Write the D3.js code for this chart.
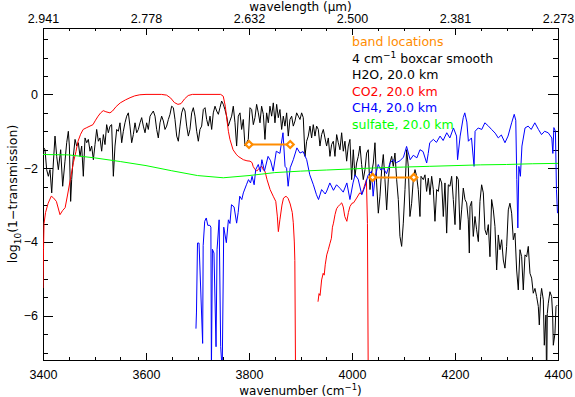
<!DOCTYPE html>
<html>
<head>
<meta charset="utf-8">
<script src="https://cdn.jsdelivr.net/npm/d3@7"></script>
<style>
  body { margin: 0; background: #fff; }
  svg { font-family: "DejaVu Sans", sans-serif; }
  .tick text { font-size: 12.5px; }
</style>
</head>
<body>
<svg id="chart" width="575" height="397"></svg>
<script>
// axis ticks
const xMajor = [3400, 3600, 3800, 4000, 4200, 4400];
const xMinor = [3450, 3500, 3550, 3650, 3700, 3750, 3850, 3900, 3950, 4050, 4100, 4150, 4250, 4300, 4350];
const yMajor = [-6, -4, -2, 0];
const yMinor = [-7, -6.5, -5.5, -5, -4.5, -3.5, -3, -2.5, -1.5, -1, -0.5, 0.5, 1, 1.5];

// band locations (wavenumber range and level)
const bandStart = [3800, 4040];
const bandEnd = [3880, 4120];
const bandLevel = [-1.36, -2.25];

// legend
const legendText = ["band locations", "4 cm", "H2O, 20.0 km", "CO2, 20.0 km", "CH4, 20.0 km", "sulfate, 20.0 km"];
const legendColor = ["#ff8c00", "#000", "#000", "#ff0000", "#0000ff", "#00ff00"];

// [wavenumber, log10(1-transmission)]
const h2o = [
  [3400,-1.9],[3401.5,-1.45],[3403.9,-1.50],[3407.1,-2.04],[3410.4,-2.22],[3413.6,-2.04],[3416.9,-2.67],[3420.1,-1.86],
  [3423.3,-1.13],[3426.6,-1.68],[3429.8,-2.04],[3434.3,-1.50],[3438.2,-2.49],[3442.7,-1.81],[3446.0,-1.31],[3449.2,-1.00],
  [3451.2,-1.40],[3453.7,-2.90],[3455.7,-2.31],[3458.9,-1.68],[3462.2,-1.22],[3465.4,-1.40],[3468.6,-1.31],[3471.9,-1.68],
  [3475.1,-1.40],[3478.3,-2.22],[3481.6,-1.18],[3484.8,-1.31],[3488.0,-1.22],[3491.3,-1.54],[3494.5,-1.40],[3497.8,-1.77],
  [3501.0,-1.36],[3504.2,-0.95],[3507.5,-1.27],[3510.7,-1.18],[3513.9,-1.54],[3517.2,-1.09],[3520.4,-1.36],[3523.6,-0.82],
  [3526.9,-1.04],[3530.1,-0.86],[3533.3,-0.82],[3536.6,-2.22],[3539.8,-1.40],[3543.1,-0.95],[3546.3,-1.00],[3549.5,-0.77],
  [3552.8,-1.31],[3556.0,-1.00],[3559.2,-0.77],[3562.5,-0.59],[3565.7,-0.50],[3568.9,-0.86],[3572.2,-1.31],[3575.4,-1.09],
  [3578.7,-0.77],[3581.9,-1.04],[3585.1,-0.95],[3588.4,-0.77],[3591.6,-0.63],[3594.8,-0.86],[3598.1,-1.04],[3601.3,-0.77],
  [3604.5,-0.95],[3607.8,-0.59],[3614.2,-0.45],[3617.5,-0.59],[3620.7,-0.95],[3623.9,-1.18],[3627.2,-0.77],[3630.4,-0.59],
  [3633.7,-0.72],[3636.9,-0.95],[3640.1,-0.86],[3643.4,-0.68],[3646.6,-0.54],[3649.8,-0.32],[3653.1,-0.36],[3656.3,-0.68],
  [3659.6,-1.13],[3662.8,-1.27],[3666.0,-0.86],[3669.3,-0.50],[3672.5,-0.36],[3675.7,-0.45],[3679.0,-0.86],[3682.2,-1.13],
  [3685.4,-0.95],[3688.7,-0.50],[3691.9,-0.36],[3695.1,-0.59],[3698.4,-1.00],[3701.6,-1.27],[3704.8,-0.95],[3708.1,-0.86],
  [3711.3,-0.41],[3714.6,-0.36],[3717.8,-0.68],[3721.0,-0.86],[3724.3,-0.59],[3727.5,-0.95],[3730.7,-0.50],[3734.0,-0.32],
  [3737.2,-0.45],[3740.5,-0.54],[3743.6,-0.36],[3746.9,-0.18],[3750.1,-0.27],[3753.3,-0.41],[3756.6,-0.59],[3759.8,-0.86],
  [3763.0,-0.72],[3766.3,-0.59],[3769.5,-0.32],[3772.8,-0.77],[3776.0,-1.40],[3779.2,-0.59],[3782.5,-0.50],[3785.7,-0.95],
  [3788.9,-0.68],[3792.2,-1.40],[3795.4,-1.31],[3798.6,-1.22],[3801.9,-0.36],[3805.1,-0.41],[3808.4,-0.82],[3811.6,-0.63],
  [3814.8,-0.27],[3818.1,-0.50],[3821.3,-0.77],[3824.5,-0.32],[3827.8,-0.54],[3831.0,-1.22],[3834.2,-0.50],[3837.5,-0.77],
  [3840.7,-0.32],[3844.0,-0.59],[3847.2,-0.23],[3850.4,-0.77],[3853.7,-0.27],[3856.9,-0.63],[3860.1,-0.41],[3863.4,-0.95],
  [3866.6,-0.59],[3869.8,-0.86],[3873.1,-0.50],[3876.3,-1.13],[3879.5,-0.68],[3882.8,-0.59],[3886.0,-0.86],[3889.3,-0.72],
  [3892.5,-0.50],[3895.7,-0.59],[3899.0,-0.68],[3902.2,-0.50],[3905.4,-0.63],[3908.7,-1.68],[3911.9,-1.27],[3915.1,-1.13],
  [3918.4,-0.86],[3921.6,-1.18],[3924.8,-0.82],[3928.1,-1.13],[3931.3,-0.86],[3934.6,-0.95],[3937.8,-1.40],[3941.0,-1.09],
  [3944.3,-0.95],[3947.5,-1.18],[3950.7,-1.40],[3954.0,-1.18],[3957.2,-1.68],[3960.4,-1.36],[3963.7,-1.27],[3966.9,-1.68],
  [3970.2,-1.09],[3973.4,-1.31],[3976.6,-1.50],[3979.9,-1.04],[3983.1,-1.54],[3986.3,-1.27],[3989.6,-1.81],[3992.8,-1.40],
  [3996.0,-1.22],[3999.3,-2.31],[4002.5,-1.50],[4005.8,-2.22],[4009.0,-1.86],[4012.2,-1.68],[4015.5,-1.40],[4018.7,-1.90],
  [4021.9,-2.31],[4025.2,-2.04],[4028.4,-1.59],[4031.6,-1.50],[4034.9,-2.58],[4038.1,-2.13],[4041.4,-1.86],[4044.6,-1.31],
  [4047.8,-2.40],[4051.1,-3.22],[4054.3,-2.76],[4057.6,-2.04],[4060.8,-1.63],[4064.0,-2.31],[4067.3,-3.13],[4070.5,-2.31],
  [4073.7,-1.86],[4077.0,-1.68],[4080.2,-1.95],[4083.4,-1.59],[4086.7,-2.31],[4089.9,-2.85],[4093.1,-3.85],[4096.4,-4.12],
  [4099.6,-3.49],[4102.9,-2.58],[4106.1,-1.50],[4109.3,-1.95],[4112.5,-3.31],[4115.8,-2.95],[4119.0,-2.31],[4122.3,-2.04],
  [4125.5,-2.22],[4128.7,-2.58],[4132.0,-3.31],[4134.0,-2.22],[4138.5,-2.31],[4141.7,-2.18],[4144.9,-2.63],[4148.2,-2.27],
  [4151.4,-2.72],[4154.7,-2.22],[4157.9,-2.58],[4161.1,-3.44],[4164.4,-2.58],[4167.6,-2.63],[4170.8,-2.27],[4174.1,-2.40],
  [4177.3,-3.31],[4180.5,-2.40],[4183.8,-3.76],[4187.0,-2.45],[4190.2,-2.49],[4193.5,-2.22],[4196.7,-2.85],[4200.0,-3.53],
  [4203.2,-2.22],[4206.4,-2.31],[4209.7,-3.67],[4212.9,-3.13],[4216.1,-2.54],[4219.4,-2.85],[4222.6,-2.94],[4225.8,-3.40],
  [4227.8,-4.30],[4229.1,-3.04],[4232.3,-2.90],[4235.5,-3.85],[4238.8,-3.31],[4242.0,-3.67],[4245.3,-3.99],[4248.5,-2.90],
  [4251.7,-2.45],[4255.0,-2.67],[4258.2,-3.67],[4261.4,-3.81],[4264.7,-3.53],[4267.9,-4.40],[4271.1,-2.85],[4274.4,-3.13],
  [4277.6,-3.58],[4280.9,-4.76],[4284.1,-3.81],[4287.3,-4.21],[4290.6,-3.94],[4293.8,-4.49],[4297.0,-4.71],[4300.3,-4.12],
  [4303.5,-3.13],[4306.7,-2.95],[4310.0,-3.22],[4313.2,-3.94],[4316.5,-3.76],[4319.7,-4.76],[4322.9,-5.30],[4326.2,-4.21],
  [4329.4,-4.40],[4332.6,-5.30],[4335.9,-4.35],[4339.1,-4.40],[4342.3,-4.12],[4345.6,-4.85],[4348.8,-4.98],[4352.0,-5.39],
  [4355.3,-5.26],[4358.5,-5.48],[4361.8,-5.75],[4363.7,-6.25],[4366.3,-5.48],[4368.2,-5.26],[4371.5,-5.57],[4373.4,-6.80],
  [4376.6,-5.98],[4377.9,-8.0],[4379.2,-5.94],[4381.2,-5.66],[4384.4,-5.35],[4387.6,-5.48],[4389.6,-5.98],[4390.9,-6.80],
  [4394.1,-6.48],[4396.1,-5.75],[4398.6,-5.71]
];

const co2 = [
  [3400,-5.25],[3401,-4.2],[3402,-3.5],[3405,-3.2],[3410,-2.95],[3416,-2.76],[3420,-2.8],[3426,-2.9],[3433,-3.26],
  [3438,-3.15],[3443,-3.07],[3448,-2.7],[3453,-2.31],[3459,-1.85],[3464,-1.55],[3468,-1.27],[3473,-1.08],[3478,-0.95],
  [3485,-0.9],[3497,-0.82],[3502,-0.7],[3507,-0.59],[3512,-0.5],[3517,-0.44],[3522,-0.47],[3530,-0.5],[3535,-0.45],
  [3542,-0.33],[3550,-0.23],[3560,-0.15],[3569,-0.09],[3578,-0.04],[3588,-0.01],[3600,0],[3630,0],[3640,-0.02],
  [3648,-0.1],[3655,-0.22],[3662,-0.27],[3668,-0.25],[3675,-0.12],[3682,-0.03],[3690,0],[3745,0],[3750,-0.05],
  [3754,-0.32],[3757,-0.68],[3760,-1.0],[3763,-1.22],[3769,-1.5],[3775,-1.62],[3779,-1.68],[3789,-1.77],[3796,-1.8],
  [3802,-1.81],[3806,-1.85],[3808,-1.95],[3811,-2.02],[3815,-2.08],[3820,-2.0],[3825,-1.95],[3828,-2.05],[3831,-2.08],
  [3835,-2.31],[3841,-2.58],[3847,-2.76],[3852,-2.9],[3855,-3.3],[3857,-3.72],[3860,-3.4],[3864,-3.0],[3867,-2.81],
  [3872,-2.76],[3876,-2.82],[3880,-2.97],[3884,-3.2],[3886,-3.48],[3888,-4.0],[3889,-4.5],[3891,-9],[3912,null],
  [3934,-5.62],[3936,-5.4],[3938,-5.45],[3941,-5.03],[3944,-4.85],[3946,-4.9],[3948,-4.62],[3951,-4.35],[3954,-4.21],
  [3957,-4.05],[3960,-3.9],[3962,-3.6],[3964,-3.49],[3967,-3.26],[3970,-3.1],[3973,-3.04],[3977,-2.98],[3980,-2.94],
  [3983,-3.05],[3986,-3.31],[3990,-3.44],[3993,-3.2],[3996,-3.04],[4000,-2.95],[4003,-2.94],[4009,-2.81],[4015,-2.67],
  [4019,-2.7],[4022,-2.58],[4026,-2.4],[4028,-2.31],[4030,-3.5],[4032,-9]
];

const ch4 = [
  [3697,-6.35],[3698,-5.9],[3700,-4.03],[3703,-4.03],[3710,-6.75],[3711,-4.1],[3714,-3.44],[3717,-3.35],[3720,-3.55],
  [3724,-3.55],[3726,-3.6],[3727,-7.5],[3729,-4.2],[3732,-4.3],[3736,-6.84],[3738,-4.2],[3742,-3.4],[3745,-6.84],
  [3748,-7.5],[3751,-3.6],[3756,-4.02],[3760,-3.4],[3763,-3.5],[3766,-2.99],[3771,-3.05],[3776,-3.49],[3779,-3.2],
  [3782,-2.76],[3786,-2.85],[3789,-2.67],[3795,-2.45],[3799,-2.31],[3803,-2.4],[3806,-2.22],[3810,-2.45],[3813,-2.04],
  [3818,-1.9],[3822,-2.1],[3825,-1.77],[3830,-2.08],[3837,-1.68],[3842,-1.8],[3847,-2.08],[3853,-1.54],[3860,-1.6],
  [3866,-1.04],[3870,-1.95],[3873,-2.0],[3876,-2.49],[3880,-1.99],[3886,-1.77],[3893,-1.45],[3899,-1.59],[3905,-1.55],
  [3912,-1.77],[3918,-2.18],[3925,-2.45],[3931,-2.72],[3935,-2.85],[3941,-2.58],[3948,-2.7],[3951,-2.62],[3957,-2.4],
  [3964,-2.6],[3970,-2.45],[3977,-2.55],[3983,-2.65],[3990,-2.4],[3996,-2.85],[4002,-2.4],[4006,-2.18],[4012,-2.3],
  [4019,-2.72],[4025,-2.5],[4031,-2.2],[4038,-2.08],[4041,-2.76],[4045,-2.22],[4051,-1.9],[4056,-2.05],[4061,-2.0],
  [4067,-2.15],[4074,-1.86],[4080,-1.77],[4086,-1.85],[4093,-1.8],[4100,-1.7],[4106,-1.41],[4113,-1.77],[4119,-1.65],
  [4126,-1.72],[4132,-1.5],[4138,-1.55],[4145,-1.86],[4148,-1.6],[4151,-1.31],[4158,-1.22],[4164,-1.3],[4171,-1.13],
  [4177,-1.25],[4184,-1.04],[4190,-1.18],[4197,-0.91],[4203,-1.13],[4205,-1.77],[4210,-1.13],[4216,-0.63],[4219,-0.5],
  [4223,-0.75],[4226,-1.27],[4232,-1.18],[4237,-1.95],[4239,-1.0],[4245,-0.91],[4252,-0.95],[4258,-0.77],[4265,-0.86],
  [4271,-0.95],[4278,-1.05],[4284,-1.18],[4290,-1.1],[4297,-1.31],[4303,-1.13],[4310,-0.77],[4315,-0.54],[4318,-0.7],
  [4320,-2.31],[4322,-3.62],[4324,-1.95],[4327,-2.22],[4330,-1.4],[4336,-0.91],[4342,-0.86],[4348,-0.95],[4355,-0.77],
  [4362,-0.95],[4368,-1.09],[4374,-1.0],[4381,-1.04],[4388,-1.18],[4390,-1.6],[4392,-0.9],[4395,-1.0],[4397,-2.58],
  [4399,-3.22]
];

const sulfate = [
  [3400,-1.63],[3450,-1.64],[3500,-1.72],[3550,-1.82],[3600,-1.93],[3650,-2.07],[3700,-2.2],[3750,-2.26],[3800,-2.2],
  [3850,-2.12],[3900,-2.08],[3950,-2.05],[4000,-2.02],[4050,-1.99],[4100,-1.97],[4150,-1.95],[4200,-1.93],[4250,-1.91],
  [4300,-1.9],[4350,-1.88],[4400,-1.87]
];

const svg = d3.select("#chart");
const plotLeft = 43, plotRight = 558, plotTop = 28, plotBottom = 360;

const x = d3.scaleLinear().domain([3400, 4400]).range([plotLeft, plotRight]);
const y = d3.scaleLinear().domain([-7.2, 1.8]).range([plotBottom, plotTop]);

svg.append("defs").append("clipPath").attr("id", "plot-clip")
  .append("rect")
  .attr("x", plotLeft).attr("y", plotTop)
  .attr("width", plotRight - plotLeft).attr("height", plotBottom - plotTop);

// axes
const xTickLen = 6.6, yTickLen = 10.3;

svg.append("g").attr("transform", `translate(0,${plotBottom})`)
  .call(d3.axisBottom(x).tickValues(xMajor).tickSize(-xTickLen).tickPadding(10).tickFormat(d3.format("d")));
svg.append("g").attr("transform", `translate(0,${plotBottom})`)
  .call(d3.axisBottom(x).tickValues(xMinor).tickSize(-xTickLen / 2).tickFormat(""));
svg.append("g").attr("transform", `translate(0,${plotTop})`)
  .call(d3.axisTop(x).tickValues(xMajor).tickSize(-xTickLen).tickPadding(5).tickFormat((d) => (10000 / d).toFixed(3)));
svg.append("g").attr("transform", `translate(0,${plotTop})`)
  .call(d3.axisTop(x).tickValues(xMinor).tickSize(-xTickLen / 2).tickFormat(""));
svg.append("g").attr("transform", `translate(${plotLeft},0)`)
  .call(d3.axisLeft(y).tickValues(yMajor).tickSize(-yTickLen).tickPadding(5));
svg.append("g").attr("transform", `translate(${plotLeft},0)`)
  .call(d3.axisLeft(y).tickValues(yMinor).tickSize(-yTickLen / 2).tickFormat(""));
svg.append("g").attr("transform", `translate(${plotRight},0)`)
  .call(d3.axisRight(y).tickValues(yMajor).tickSize(-yTickLen).tickFormat(""));
svg.append("g").attr("transform", `translate(${plotRight},0)`)
  .call(d3.axisRight(y).tickValues(yMinor).tickSize(-yTickLen / 2).tickFormat(""));

svg.selectAll(".domain").remove();
svg.selectAll(".tick line").attr("stroke", "#000").attr("shape-rendering", "crispEdges");
svg.selectAll(".tick text").attr("fill", "#000");

svg.append("rect")
  .attr("x", plotLeft).attr("y", plotTop)
  .attr("width", plotRight - plotLeft).attr("height", plotBottom - plotTop)
  .attr("fill", "none").attr("stroke", "#000").attr("shape-rendering", "crispEdges");

// axis titles
svg.append("text")
  .attr("x", (plotLeft + plotRight) / 2).attr("y", 11)
  .attr("text-anchor", "middle").attr("font-size", 12)
  .text("wavelength (μm)");

const xTitle = svg.append("text")
  .attr("x", (plotLeft + plotRight) / 2).attr("y", 395)
  .attr("text-anchor", "middle").attr("font-size", 12);
xTitle.append("tspan").text("wavenumber (cm");
xTitle.append("tspan").attr("font-size", 8.5).attr("dy", -5).text("−1");
xTitle.append("tspan").attr("dy", 5).text(")");

const yTitle = svg.append("text")
  .attr("transform", `translate(17,${(plotTop + plotBottom) / 2}) rotate(-90)`)
  .attr("text-anchor", "middle").attr("font-size", 12.5);
yTitle.append("tspan").text("log");
yTitle.append("tspan").attr("font-size", 9).attr("dy", 4).text("10");
yTitle.append("tspan").attr("dy", -4).text("(1−transmission)");

// spectra
const line = d3.line()
  .defined((d) => d[1] !== null)
  .x((d) => x(d[0]))
  .y((d) => y(d[1]));

const plot = svg.append("g").attr("clip-path", "url(#plot-clip)");

[[h2o, "#000"], [co2, "#ff0000"], [ch4, "#0000ff"], [sulfate, "#00ff00"]].forEach(([data, color]) => {
  plot.append("path")
    .datum(data)
    .attr("d", line)
    .attr("fill", "none")
    .attr("stroke", color)
    .attr("stroke-width", 1)
    .attr("stroke-linejoin", "miter");
});

// band location markers
const bands = bandStart.map((s, i) => ({ s: s, e: bandEnd[i], v: bandLevel[i] }));
const bandG = plot.append("g");
bandG.selectAll("line")
  .data(bands)
  .enter()
  .append("line")
  .attr("x1", (d) => x(d.s)).attr("x2", (d) => x(d.e))
  .attr("y1", (d) => y(d.v)).attr("y2", (d) => y(d.v))
  .attr("stroke", "#ff8c00").attr("stroke-width", 2);
const ends = bands.flatMap((d) => [[d.s, d.v], [d.e, d.v]]);
bandG.selectAll("path")
  .data(ends)
  .enter()
  .append("path")
  .attr("transform", (d) => `translate(${x(d[0])},${y(d[1])})`)
  .attr("d", "M0,-3.5L3.5,0L0,3.5L-3.5,0Z")
  .attr("fill", "#fff")
  .attr("stroke", "#ff8c00")
  .attr("stroke-width", 2.2);

// legend
const legend = svg.append("g").attr("font-size", 12.5);
legend.selectAll("text")
  .data(legendText)
  .enter()
  .append("text")
  .attr("x", 352)
  .attr("y", (d, i) => 46 + i * 16.6)
  .attr("fill", (d, i) => legendColor[i])
  .each(function (d, i) {
    const t = d3.select(this);
    t.append("tspan").text(d);
    if (i === 1) {
      t.append("tspan").attr("font-size", 9).attr("dy", -5).text("−1");
      t.append("tspan").attr("dy", 5).text(" boxcar smooth");
    }
  });
</script>
</body>
</html>
